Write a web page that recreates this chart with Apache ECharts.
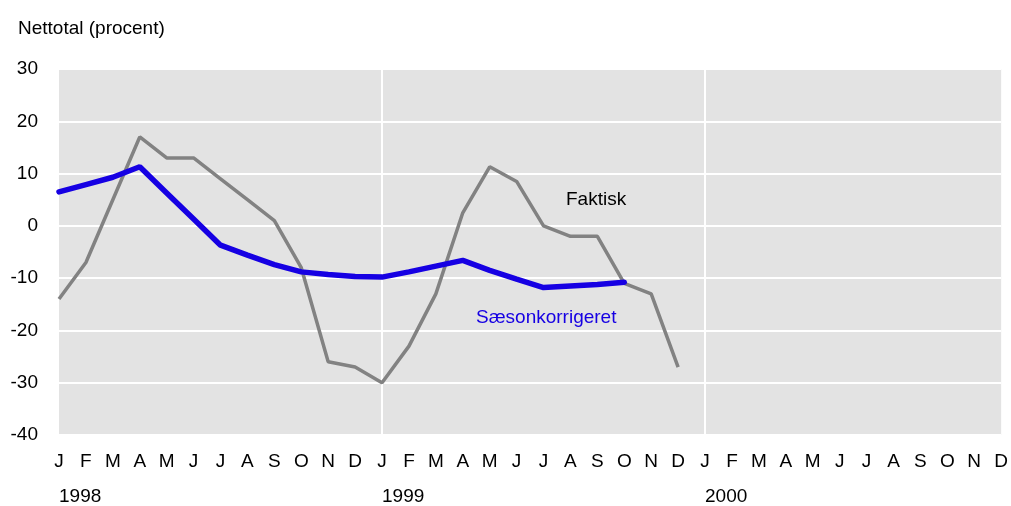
<!DOCTYPE html>
<html>
<head>
<meta charset="utf-8">
<script src="https://cdn.jsdelivr.net/npm/echarts@6/dist/echarts.min.js"></script>
<style>
  html, body { margin: 0; padding: 0; background: #fff; }
  #container { width: 1011px; height: 506px; }
</style>
</head>
<body>
<div id="container"></div>
<script>
var FONT = '"Liberation Sans", Arial, sans-serif';

// 36 months, Jan 1998 - Dec 2000
var months = ['J', 'F', 'M', 'A', 'M', 'J', 'J', 'A', 'S', 'O', 'N', 'D'];
var years = ['1998', '1999', '2000'];
var categories = [];
for (var y = 0; y < years.length; y++) {
  for (var m = 0; m < months.length; m++) {
    categories.push(years[y] + '-' + (m + 1));
  }
}

var faktisk = [-14, -7, 5, 17, 13, 13, 9, 5, 1, -8, -26, -27,
               -30, -23, -13, 2.5, 11.3, 8.5, 0, -2, -2, -11, -13, -27];
var saeson = [6.5, 7.9, 9.3, 11.3, 6.3, 1.3, -3.7, -5.6, -7.4, -8.8, -9.3, -9.7,
              -9.8, -8.8, -7.7, -6.6, -8.5, -10.2, -11.8, -11.5, -11.2, -10.8];

var yTicks = [-40, -30, -20, -10, 0, 10, 20, 30];

var dom = document.getElementById('container');
var myChart = echarts.init(dom);

var option = {
  animation: false,
  textStyle: { fontFamily: FONT },
  title: {
    text: 'Nettotal (procent)',
    left: 13,
    top: 14,
    textStyle: { fontFamily: FONT, fontSize: 19, fontWeight: 'normal', color: '#000' }
  },
  grid: {
    left: 59,
    right: 9,
    top: 69,
    bottom: 71,
    show: true,
    backgroundColor: '#e3e3e3',
    borderWidth: 0
  },
  xAxis: [
    {
      type: 'category',
      data: categories,
      boundaryGap: false,
      axisLine: { show: false },
      axisTick: { show: false },
      axisLabel: {
        interval: 0,
        margin: 17,
        fontSize: 19,
        color: '#000',
        fontFamily: FONT,
        formatter: function (value, idx) {
          return months[idx % 12];
        }
      },
      splitLine: {
        show: true,
        interval: function (idx) { return idx > 0 && idx % 12 === 0; },
        lineStyle: { color: '#fff', width: 2 }
      }
    },
    {
      type: 'category',
      data: categories,
      boundaryGap: false,
      position: 'bottom',
      axisLine: { show: false },
      axisTick: { show: false },
      splitLine: { show: false },
      axisLabel: {
        interval: 0,
        margin: 52,
        fontSize: 19,
        color: '#000',
        fontFamily: FONT,
        align: 'left',
        formatter: function (value, idx) {
          return idx % 12 === 0 ? years[idx / 12] : '';
        }
      }
    }
  ],
  yAxis: {
    type: 'value',
    min: yTicks[0],
    max: yTicks[yTicks.length - 1],
    interval: 10,
    axisLine: { show: false },
    axisTick: { show: false },
    axisLabel: {
      margin: 21,
      fontSize: 19,
      color: '#000',
      fontFamily: FONT
    },
    splitLine: { lineStyle: { color: '#fff', width: 2 } }
  },
  series: [
    {
      name: 'Faktisk',
      type: 'line',
      data: faktisk,
      symbol: 'none',
      lineStyle: { color: '#828282', width: 3.5 },
      z: 2
    },
    {
      name: 'Sæsonkorrigeret',
      type: 'line',
      data: saeson,
      symbol: 'none',
      lineStyle: { color: '#1600e3', width: 5.5, cap: 'round' },
      z: 3
    }
  ],
  graphic: [
    {
      type: 'text',
      left: 566,
      top: 190,
      style: { text: 'Faktisk', fill: '#000', font: '19px ' + FONT }
    },
    {
      type: 'text',
      left: 476,
      top: 308,
      style: { text: 'Sæsonkorrigeret', fill: '#1600e3', font: '19px ' + FONT }
    }
  ]
};

myChart.setOption(option);
</script>
</body>
</html>
